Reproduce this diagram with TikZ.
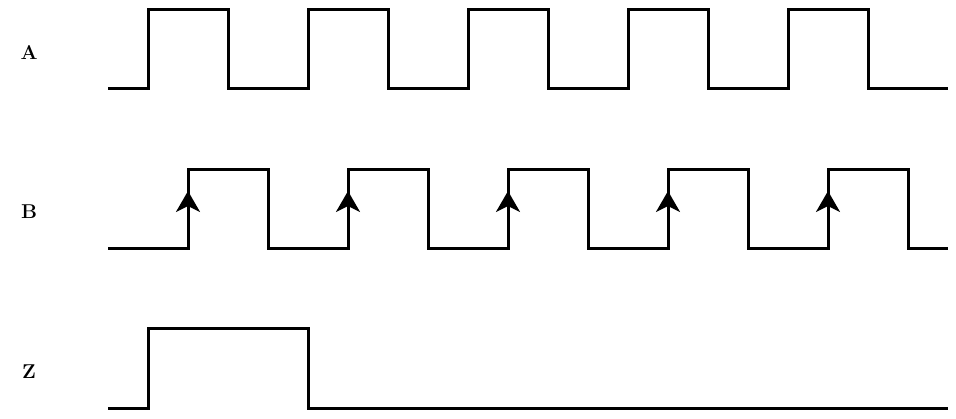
\documentclass[tikz,border=0pt]{standalone}
\usetikzlibrary{arrows.meta}
\begin{document}
\begin{tikzpicture}[x=1pt,y=-1pt,sig/.style={line width=3pt,line join=miter},
lab/.style={font=\bfseries\fontsize{20}{24}\selectfont,anchor=center},
edge/.style={line width=3pt,-{Stealth[length=21pt,width=24pt,inset=6pt]}}]
\useasboundingbox (0,0) rectangle (956,418);
\node[lab] (la) at (29,52) {A};
\node[lab] (lb) at (29,212) {B};
\node[lab] (lz) at (29,372) {Z};
\draw[sig] (108,88) -- (148,88) -- (148,9) -- (228,9) -- (228,88) -- (308,88) -- (308,9) -- (388,9) -- (388,88) -- (468,88) -- (468,9) -- (548,9) -- (548,88) -- (628,88) -- (628,9) -- (708,9) -- (708,88) -- (788,88) -- (788,9) -- (868,9) -- (868,88) -- (948,88);
\draw[sig] (108,248) -- (188,248) -- (188,169) -- (268,169) -- (268,248) -- (348,248) -- (348,169) -- (428,169) -- (428,248) -- (508,248) -- (508,169) -- (588,169) -- (588,248) -- (668,248) -- (668,169) -- (748,169) -- (748,248) -- (828,248) -- (828,169) -- (908,169) -- (908,248) -- (948,248);
\foreach \x in {188,348,508,668,828} \draw[edge] (\x,230) -- (\x,191);
\draw[sig] (108,408) -- (148,408) -- (148,328) -- (308,328) -- (308,408) -- (948,408);
\end{tikzpicture}
\end{document}
